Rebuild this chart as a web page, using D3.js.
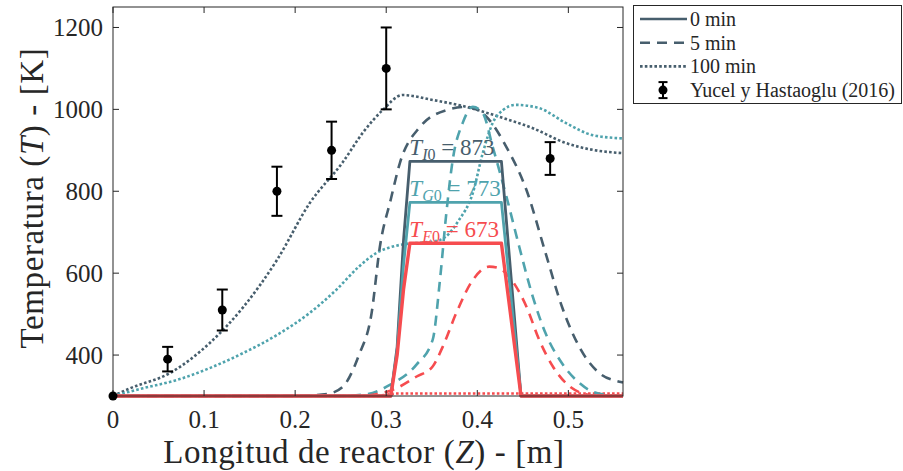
<!DOCTYPE html>
<html>
<head>
<meta charset="utf-8">
<script src="https://cdn.jsdelivr.net/npm/d3@7"></script>
<style>
  body { margin: 0; background: #fff; }
  svg text { font-family: 'Liberation Serif', 'Times New Roman', serif; fill: #262626; }
</style>
</head>
<body>
<svg id="chart" width="903" height="471"></svg>
<script>
// reactor length axis (m) and temperatures (K)
const xTicks = [0, 0.1, 0.2, 0.3, 0.4, 0.5]
const yTicks = [400, 600, 800, 1000, 1200]

// 0 min: initial step profiles
const zStep = [0, 0.305, 0.312, 0.319, 0.326, 0.4265, 0.448, 0.56]
const tI0 = [300, 300, 420, 680, 873, 873, 300, 300]
const tG0 = [300, 300, 410, 620, 773, 773, 300, 300]
const tE0 = [300, 300, 400, 560, 673, 673, 300, 300]

// 5 min
const zI5 = [0, 0.2, 0.235, 0.252, 0.27, 0.284, 0.293, 0.305, 0.315, 0.337, 0.366, 0.388, 0.41, 0.432, 0.454, 0.475, 0.493, 0.512, 0.534, 0.556, 0.56]
const tI5 = [300, 300, 305, 322, 400, 503, 664, 780, 869, 957, 998, 1006, 982, 908, 803, 649, 518, 420, 356, 335, 333]
const zG5 = [0, 0.25, 0.28, 0.304, 0.333, 0.351, 0.359, 0.366, 0.373, 0.384, 0.395, 0.406, 0.417, 0.432, 0.446, 0.461, 0.475, 0.493, 0.512, 0.527, 0.545, 0.56]
const tG5 = [300, 300, 305, 327, 376, 437, 583, 746, 876, 967, 1006, 991, 908, 787, 665, 542, 453, 380, 332, 310, 302, 300]
const zE5 = [0, 0.27, 0.307, 0.333, 0.351, 0.362, 0.377, 0.395, 0.413, 0.424, 0.435, 0.454, 0.468, 0.483, 0.497, 0.515, 0.535, 0.56]
const tE5 = [300, 300, 315, 347, 372, 420, 503, 583, 616, 612, 591, 518, 437, 372, 332, 307, 300, 300]

// 100 min
const zI100 = [0, 0.019, 0.0625, 0.106, 0.143, 0.18, 0.216, 0.252, 0.275, 0.296, 0.318, 0.351, 0.388, 0.424, 0.461, 0.497, 0.527, 0.56]
const tI100 = [300, 319, 356, 429, 517, 632, 771, 870, 945, 998, 1035, 1023, 1006, 982, 954, 918, 901, 893]
const zG100 = [0, 0.033, 0.07, 0.106, 0.143, 0.18, 0.216, 0.245, 0.27, 0.289, 0.315, 0.34, 0.359, 0.38, 0.395, 0.406, 0.417, 0.428, 0.442, 0.468, 0.497, 0.527, 0.56]
const tG100 = [300, 319, 339, 368, 405, 449, 503, 559, 616, 649, 669, 675, 681, 730, 795, 893, 967, 998, 1011, 1003, 967, 937, 929]
const zE100 = [0, 0.29, 0.31, 0.56]
const tE100 = [300, 300, 306, 306]

// Yucel y Hastaoglu (2016)
const expZ = [0, 0.06, 0.12, 0.18, 0.24, 0.3, 0.48]
const expT = [300, 390, 510, 800, 900, 1100, 880]
const expErr = [0, 30, 50, 60, 70, 100, 40]

const COLORS = { I: '#475e6d', G: '#4fa3ad', E: '#f64c4f' }

const svg = d3.select('#chart')
const M = { left: 113, top: 7, right: 623, bottom: 396 }

const x = d3.scaleLinear().domain([0, 0.56]).range([M.left, M.right])
const y = d3.scaleLinear().domain([300, 1250]).range([M.bottom, M.top])

// lines sitting on the 300 K floor stay fully visible, like the original
svg.append('defs').append('clipPath').attr('id', 'plotclip')
  .append('rect')
  .attr('x', M.left).attr('y', M.top)
  .attr('width', M.right - M.left + 1).attr('height', M.bottom - M.top + 2)

const plot = svg.append('g').attr('clip-path', 'url(#plotclip)')

function zip(zs, ts) {
  return zs.map((z, i) => ({ z: z, t: ts[i] }))
}

const smooth = d3.line().x(d => x(d.z)).y(d => y(d.t)).curve(d3.curveMonotoneX)
const straight = d3.line().x(d => x(d.z)).y(d => y(d.t))

const series = [
  { z: zI100, t: tI100, c: COLORS.I, dash: '2.6,2.2', w: 2.6, gen: smooth },
  { z: zG100, t: tG100, c: COLORS.G, dash: '2.6,2.2', w: 2.6, gen: smooth },
  { z: zE100, t: tE100, c: COLORS.E, dash: '2.6,2.2', w: 2.6, gen: straight },
  { z: zI5, t: tI5, c: COLORS.I, dash: '10,7', w: 2.6, gen: smooth },
  { z: zG5, t: tG5, c: COLORS.G, dash: '10,7', w: 2.6, gen: smooth },
  { z: zE5, t: tE5, c: COLORS.E, dash: '10,7', w: 2.6, gen: smooth },
  { z: zStep, t: tI0, c: COLORS.I, dash: null, w: 2.8, gen: straight },
  { z: zStep, t: tG0, c: COLORS.G, dash: null, w: 2.8, gen: straight },
  { z: zStep, t: tE0, c: COLORS.E, dash: null, w: 3.4, gen: straight }
]

series.forEach(s => {
  plot.append('path')
    .datum(zip(s.z, s.t))
    .attr('d', s.gen)
    .attr('fill', 'none')
    .attr('stroke', s.c)
    .attr('stroke-width', s.w)
    .attr('stroke-dasharray', s.dash)
    .attr('stroke-linejoin', 'round')
})

// box and ticks (mirrored, inward)
svg.append('rect')
  .attr('x', M.left).attr('y', M.top)
  .attr('width', M.right - M.left).attr('height', M.bottom - M.top)
  .attr('fill', 'none').attr('stroke', '#262626').attr('stroke-width', 1)

const tickLen = 6
const ticks = svg.append('g').attr('stroke', '#262626').attr('stroke-width', 1)
xTicks.forEach(v => {
  ticks.append('line').attr('x1', x(v)).attr('x2', x(v)).attr('y1', M.bottom).attr('y2', M.bottom - tickLen)
  ticks.append('line').attr('x1', x(v)).attr('x2', x(v)).attr('y1', M.top).attr('y2', M.top + tickLen)
})
yTicks.forEach(v => {
  ticks.append('line').attr('x1', M.left).attr('x2', M.left + tickLen).attr('y1', y(v)).attr('y2', y(v))
  ticks.append('line').attr('x1', M.right).attr('x2', M.right - tickLen).attr('y1', y(v)).attr('y2', y(v))
})

svg.selectAll('.xlab').data(xTicks).enter().append('text')
  .attr('x', d => x(d)).attr('y', 428)
  .attr('text-anchor', 'middle').style('font-size', '25px')
  .text(d => d3.format('~g')(d))

svg.selectAll('.ylab').data(yTicks).enter().append('text')
  .attr('x', 103).attr('y', d => y(d) + 8.5)
  .attr('text-anchor', 'end').style('font-size', '25px')
  .text(d => d)

// axis titles
const xt = svg.append('text')
  .attr('x', 364).attr('y', 463)
  .attr('text-anchor', 'middle').style('font-size', '33px').style('letter-spacing', '0.6px')
xt.append('tspan').text('Longitud de reactor (')
xt.append('tspan').style('font-style', 'italic').text('Z')
xt.append('tspan').text(') - [m]')

const yt = svg.append('text')
  .attr('transform', 'translate(43,198) rotate(-90)')
  .attr('text-anchor', 'middle').style('font-size', '33px').style('letter-spacing', '0.6px')
yt.append('tspan').text('Temperatura (')
yt.append('tspan').style('font-style', 'italic').text('T')
yt.append('tspan').text(') - [K]')

// experimental points
const exp = svg.append('g')
expZ.forEach((z, i) => {
  const cx = x(z)
  const e = expErr[i]
  if (e > 0) {
    exp.append('line').attr('x1', cx).attr('x2', cx).attr('y1', y(expT[i] - e)).attr('y2', y(expT[i] + e))
      .attr('stroke', '#000').attr('stroke-width', 2)
    ;[expT[i] - e, expT[i] + e].forEach(v => {
      exp.append('line').attr('x1', cx - 5.5).attr('x2', cx + 5.5).attr('y1', y(v)).attr('y2', y(v))
        .attr('stroke', '#000').attr('stroke-width', 2)
    })
  }
  exp.append('circle').attr('cx', cx).attr('cy', y(expT[i])).attr('r', 4.5).attr('fill', '#000')
})

// initial temperature labels
const labels = [
  { sub: 'I', val: 873, c: COLORS.I },
  { sub: 'G', val: 773, c: COLORS.G },
  { sub: 'E', val: 673, c: COLORS.E }
]
labels.forEach(l => {
  const t = svg.append('text')
    .attr('x', x(0.3265) - 1).attr('y', y(l.val) - 6)
    .style('font-size', '23px').style('fill', l.c)
  t.append('tspan').style('font-style', 'italic').style('fill', l.c).text('T')
  t.append('tspan').attr('dy', 5).style('font-size', '16px').style('fill', l.c)
    .html('<tspan font-style="italic">' + l.sub + '</tspan>0')
  t.append('tspan').attr('dy', -5).style('fill', l.c).text(' = ' + l.val)
})

// legend
const lg = svg.append('g')
lg.append('rect').attr('x', 633.5).attr('y', 5.5).attr('width', 268).attr('height', 98)
  .attr('fill', '#fff').attr('stroke', '#262626').attr('stroke-width', 1)
const legendItems = [
  { label: '0 min', dash: null },
  { label: '5 min', dash: '10,7' },
  { label: '100 min', dash: '2.6,2.2' },
  { label: 'Yucel y Hastaoglu (2016)', dash: 'marker' }
]
legendItems.forEach((d, i) => {
  const ly = 19 + i * 23.7
  if (d.dash === 'marker') {
    lg.append('line').attr('x1', 663).attr('x2', 663).attr('y1', ly - 8).attr('y2', ly + 8)
      .attr('stroke', '#000').attr('stroke-width', 2)
    ;[ly - 8, ly + 8].forEach(v => {
      lg.append('line').attr('x1', 658.5).attr('x2', 667.5).attr('y1', v).attr('y2', v)
        .attr('stroke', '#000').attr('stroke-width', 2)
    })
    lg.append('circle').attr('cx', 663).attr('cy', ly).attr('r', 4.5).attr('fill', '#000')
  } else {
    lg.append('line').attr('x1', 640).attr('x2', 687).attr('y1', ly).attr('y2', ly)
      .attr('stroke', COLORS.I).attr('stroke-width', 2.6)
      .attr('stroke-dasharray', d.dash)
  }
  lg.append('text').attr('x', 690).attr('y', ly + 7)
    .style('font-size', '20px').text(d.label)
})
</script>
</body>
</html>
